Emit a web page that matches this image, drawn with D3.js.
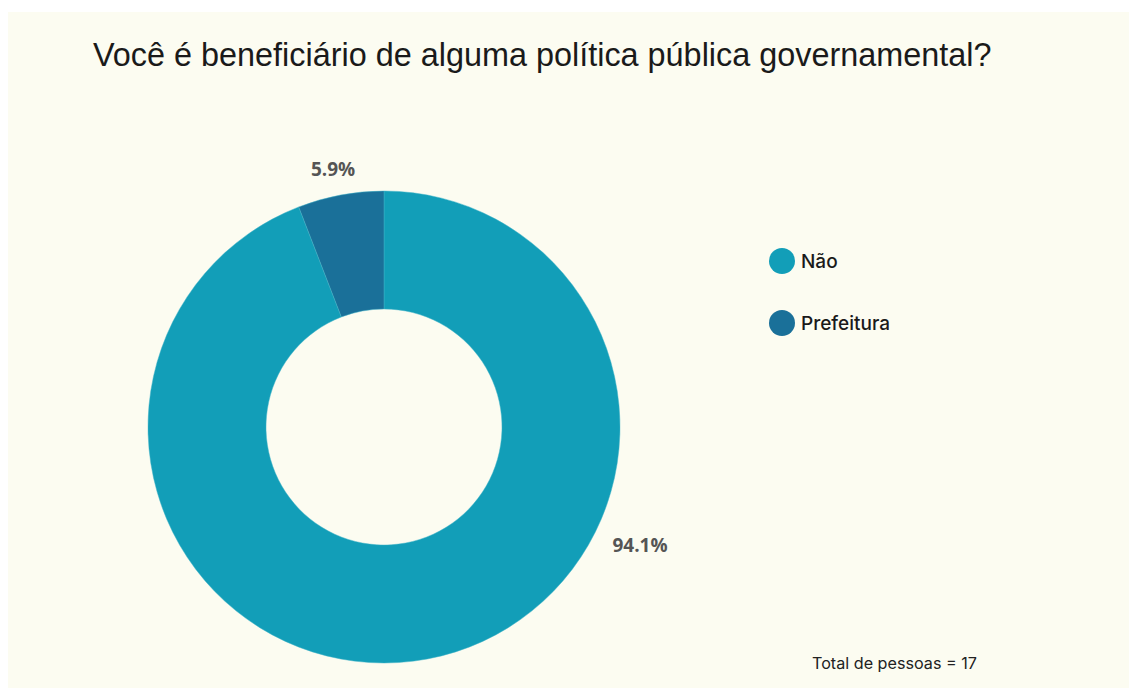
<!DOCTYPE html>
<html>
<head>
<meta charset="utf-8">
<script src="https://cdn.jsdelivr.net/npm/d3@7"></script>
<style>
  html, body { margin: 0; padding: 0; background: #ffffff; }
  svg { display: block; }
</style>
</head>
<body>
<svg id="chart" width="1129" height="688"></svg>
<script>
// Survey answers and counts
const categories = ["Não", "Prefeitura"];
const counts = [16, 1];
const colors = ["#129eb8", "#1a7099"];
const titleText = "Você é beneficiário de alguma política pública governamental?";
const totalLabel = "Total de pessoas = 17";

const svg = d3.select("#chart");
const W = 1129, H = 688;

// shrink or grow a text element's font so it spans the given width
function fitWidth(sel, base, width) {
  const w = sel.node().getComputedTextLength();
  sel.attr("font-size", base * width / w);
}

// panel background
svg.append("rect")
  .attr("x", 8).attr("y", 12)
  .attr("width", W - 8).attr("height", H - 12)
  .attr("fill", "#fcfcf1");

// title
const title = svg.append("text")
  .attr("x", 93).attr("y", 66)
  .attr("font-family", "Liberation Sans, Arial, sans-serif")
  .attr("font-size", 28)
  .attr("fill", "#1a1a1a")
  .text(titleText);
fitWidth(title, 28, 899);

const cx = 384, cy = 427;
const outerR = 236, innerR = 118;
const total = d3.sum(counts);

const pie = d3.pie().sort(null).value(d => d.value);
const data = categories.map((c, i) => ({ name: c, value: counts[i], color: colors[i] }));
const arcs = pie(data);

const arc = d3.arc().innerRadius(innerR).outerRadius(outerR);
const g = svg.append("g").attr("transform", `translate(${cx},${cy})`);

g.selectAll("path.slice")
  .data(arcs)
  .join("path")
  .attr("class", "slice")
  .attr("d", arc)
  .attr("fill", d => d.data.color)
  .attr("stroke", "#3fb3c9")
  .attr("stroke-width", 0.8)
  .attr("stroke-opacity", 0.6);

// percentage labels outside the ring
const fmt = v => (v / total * 100).toFixed(1) + "%";
const labelPos = {
  "Não": { x: 256, y: 125 },
  "Prefeitura": { x: -51, y: -251 }
};
g.selectAll("text.pct")
  .data(arcs)
  .join("text")
  .attr("class", "pct")
  .attr("x", d => labelPos[d.data.name].x)
  .attr("y", d => labelPos[d.data.name].y)
  .attr("text-anchor", "middle")
  .attr("font-family", "Open Sans, Noto Sans, sans-serif")
  .attr("font-weight", "bold")
  .attr("font-size", 19)
  .attr("fill", "#555555")
  .text(d => fmt(d.data.value));

// legend
const legend = svg.append("g").attr("transform", "translate(782,261)");
const items = legend.selectAll("g.item")
  .data(data)
  .join("g")
  .attr("class", "item")
  .attr("transform", (d, i) => `translate(0,${i * 62})`);
items.append("circle")
  .attr("r", 13)
  .attr("fill", d => d.color);
items.append("text")
  .attr("x", 19).attr("y", 7)
  .attr("font-family", "Inter, Roboto, sans-serif")
  .attr("font-weight", 500)
  .attr("font-size", 19)
  .attr("fill", "#1a1a1a")
  .text(d => d.name);

// footnote
const foot = svg.append("text")
  .attr("x", 812).attr("y", 669)
  .attr("font-family", "Inter, Roboto, sans-serif")
  .attr("font-size", 15)
  .attr("fill", "#222222")
  .text(totalLabel);
fitWidth(foot, 15, 165);
</script>
</body>
</html>
